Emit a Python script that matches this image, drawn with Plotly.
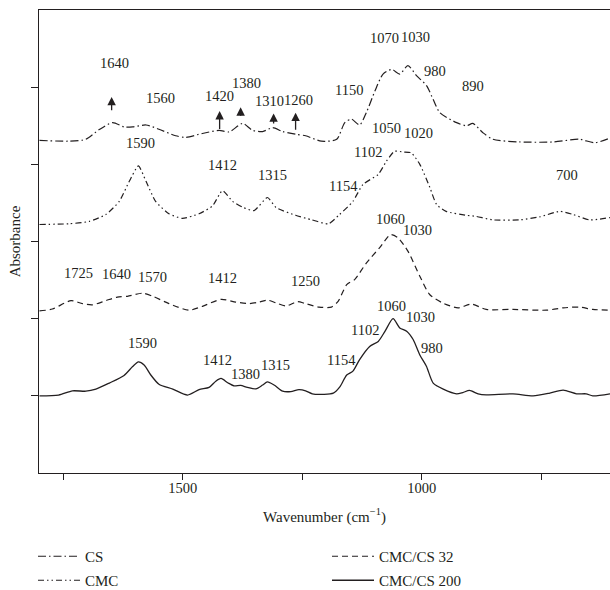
import plotly.graph_objects as go

# ---------------- data ----------------
cs_wn = [1800, 1738, 1703, 1675, 1647, 1623, 1605, 1577, 1550, 1515, 1494, 1459, 1424, 1403,
         1375, 1354, 1333, 1312, 1291, 1264, 1243, 1210, 1178, 1161, 1147, 1130, 1116, 1098,
         1081, 1063, 1046, 1029, 1011, 990, 976, 962, 927, 906, 893, 872, 851, 795, 725, 670,
         638, 606]
cs_abs = [4.31, 4.30, 4.325, 4.45, 4.54, 4.485, 4.485, 4.51, 4.455, 4.37, 4.35, 4.40, 4.44, 4.42,
          4.53, 4.44, 4.425, 4.475, 4.425, 4.39, 4.37, 4.30, 4.325, 4.54, 4.585, 4.51, 4.67, 4.95,
          5.17, 5.23, 5.17, 5.28, 5.15, 5.02, 4.84, 4.67, 4.54, 4.50, 4.53, 4.41, 4.325, 4.29, 4.29,
          4.325, 4.28, 4.34]

cmc_wn = [1800, 1738, 1696, 1661, 1633, 1612, 1593, 1577, 1557, 1529, 1501, 1466, 1438, 1417,
          1396, 1375, 1351, 1323, 1305, 1264, 1230, 1195, 1172, 1144, 1123, 1091, 1074, 1057,
          1039, 1022, 1004, 983, 969, 949, 907, 886, 851, 795, 753, 711, 683, 649, 606]
cmc_abs = [3.22, 3.23, 3.26, 3.35, 3.52, 3.78, 3.98, 3.78, 3.52, 3.36, 3.30, 3.36, 3.46, 3.66,
           3.52, 3.445, 3.40, 3.57, 3.44, 3.34, 3.28, 3.23, 3.35, 3.52, 3.74, 3.87, 4.04, 4.17,
           4.16, 4.15, 4.00, 3.70, 3.48, 3.39, 3.34, 3.325, 3.28, 3.28, 3.32, 3.39, 3.35, 3.28, 3.31]

c32_wn = [1800, 1773, 1734, 1710, 1689, 1661, 1637, 1616, 1584, 1563, 1529, 1487, 1459, 1420,
          1389, 1361, 1344, 1323, 1305, 1284, 1260, 1243, 1215, 1189, 1175, 1157, 1140, 1116,
          1088, 1065, 1050, 1029, 1004, 983, 955, 924, 896, 865, 809, 739, 704, 670, 642, 606]
c32_abs = [2.10, 2.125, 2.234, 2.195, 2.18, 2.234, 2.28, 2.29, 2.33, 2.29, 2.195, 2.11, 2.16, 2.25,
           2.215, 2.195, 2.21, 2.24, 2.205, 2.165, 2.22, 2.195, 2.15, 2.15, 2.225, 2.44, 2.51, 2.72,
           2.92, 3.09, 3.05, 2.875, 2.55, 2.31, 2.20, 2.14, 2.19, 2.12, 2.12, 2.11, 2.14, 2.15, 2.12,
           2.11]

c200_wn = [1800, 1760, 1731, 1703, 1682, 1654, 1623, 1605, 1593, 1581, 1567, 1550, 1521, 1490,
           1466, 1445, 1431, 1420, 1406, 1393, 1379, 1365, 1347, 1333, 1323, 1309, 1291, 1274,
           1257, 1243, 1229, 1205, 1185, 1171, 1157, 1144, 1130, 1109, 1091, 1077, 1060, 1046,
           1031, 1018, 1004, 990, 976, 955, 927, 914, 900, 882, 865, 809, 767, 732, 704, 676, 656,
           642, 606]
c200_abs = [1.00, 1.01, 1.065, 1.06, 1.087, 1.165, 1.264, 1.38, 1.44, 1.40, 1.27, 1.15, 1.087, 1.01,
            1.08, 1.11, 1.19, 1.225, 1.17, 1.13, 1.135, 1.11, 1.09, 1.14, 1.18, 1.14, 1.06, 1.055,
            1.08, 1.065, 1.026, 1.02, 1.035, 1.12, 1.27, 1.32, 1.47, 1.64, 1.705, 1.835, 2.00, 1.88,
            1.835, 1.73, 1.53, 1.38, 1.165, 1.087, 1.026, 1.043, 1.07, 1.026, 1.013, 1.026, 1.00,
            1.035, 1.074, 1.026, 1.026, 1.00, 1.026]

series_names = ["CS", "CMC", "CMC/CS 32", "CMC/CS 200"]

x_tick_vals = [1750, 1500, 1250, 1000, 750]
x_tick_text = ["", "1500", "", "1000", ""]
y_tick_vals = [1, 2, 3, 4, 5]

# peak labels: (text, wavenumber, absorbance)
peak_labels = [
    ("1640", 1643, 5.308), ("1560", 1547, 4.866), ("1420", 1424, 4.887), ("1380", 1367, 5.048),
    ("1310", 1318, 4.822), ("1260", 1257, 4.835), ("1150", 1153, 4.961), ("1070", 1077, 5.632),
    ("1030", 1013, 5.645), ("980", 972, 5.204), ("890", 893, 5.009),
    ("1590", 1589, 4.282), ("1412", 1416, 3.987), ("1315", 1312, 3.857), ("1050", 1073, 4.477),
    ("1020", 1007, 4.403), ("1102", 1113, 4.165), ("1154", 1163, 3.718), ("700", 697, 3.857),
    ("1725", 1719, 2.594), ("1640", 1639, 2.581), ("1570", 1563, 2.542), ("1412", 1416, 2.523),
    ("1250", 1244, 2.484), ("1060", 1066, 3.295), ("1030", 1008, 3.143),
    ("1590", 1584, 1.684), ("1412", 1427, 1.458), ("1380", 1369, 1.286), ("1315", 1307, 1.403),
    ("1060", 1063, 2.169), ("1030", 1002, 2.022), ("1102", 1118, 1.848), ("980", 979, 1.619),
    ("1154", 1167, 1.458),
]

# arrows on the CS curve: (wavenumber, base absorbance, tip absorbance)
arrow_wn = [1649, 1423, 1379, 1310, 1264]
arrow_base = [4.68, 4.44, 4.61, 4.51, 4.43]
arrow_tip = [4.874, 4.69, 4.74, 4.66, 4.67]

# ---------------- figure ----------------
INK = "#231f20"
FONT = "Liberation Serif"

fig = go.Figure()
styles = [
    dict(dash="8px,3px,1.5px,3px", width=1.2, smoothing=0.7),
    dict(dash="6px,3px,1.5px,3px,1.5px,3px", width=1.2, smoothing=0.55),
    dict(dash="6px,4px", width=1.2, smoothing=0.7),
    dict(dash="solid", width=1.3, smoothing=0.7),
]
xs = [cs_wn, cmc_wn, c32_wn, c200_wn]
ys = [cs_abs, cmc_abs, c32_abs, c200_abs]
legends = ["legend", "legend", "legend2", "legend2"]
for i in range(4):
    fig.add_trace(go.Scatter(
        x=xs[i], y=ys[i], mode="lines", name=series_names[i],
        line=dict(color=INK, width=styles[i]["width"], dash=styles[i]["dash"],
                  shape="spline", smoothing=styles[i]["smoothing"]),
        legend=legends[i], legendgroup=series_names[i], hoverinfo="skip"))

for txt, xv, yv in peak_labels:
    fig.add_annotation(x=xv, y=yv, text=txt, showarrow=False,
                       font=dict(family=FONT, size=14.5, color=INK))

for xv, yb, yt in zip(arrow_wn, arrow_base, arrow_tip):
    fig.add_annotation(x=xv, y=yt, ax=xv, ay=yb, axref="x", ayref="y", text="",
                       showarrow=True, arrowhead=2, arrowsize=1.3, arrowwidth=1.3,
                       arrowcolor=INK, standoff=0, startstandoff=0)

PLOT_W = 571.0
PLOT_H = 463.0
legend_common = dict(orientation="v", yanchor="top", xanchor="left",
                     itemwidth=42, tracegroupgap=1.5,
                     bgcolor="rgba(0,0,0,0)", borderwidth=0,
                     font=dict(family=FONT, size=15, color=INK))

fig.update_layout(
    width=610, height=590,
    margin=dict(l=39, r=0, t=10, b=117, autoexpand=False),
    paper_bgcolor="white", plot_bgcolor="white",
    font=dict(family=FONT, color=INK),
    showlegend=True,
    legend=dict(x=(33 - 39) / PLOT_W, y=(473 - 540) / PLOT_H, **legend_common),
    legend2=dict(x=(327 - 39) / PLOT_W, y=(473 - 540) / PLOT_H, **legend_common),
    xaxis=dict(range=[1801, 606], tickvals=x_tick_vals, ticktext=x_tick_text,
               ticks="outside", ticklen=6, tickwidth=1.2, tickcolor=INK,
               ticklabelstandoff=-5,
               showline=True, linecolor=INK, linewidth=1.3, mirror=True,
               showgrid=False, zeroline=False,
               tickfont=dict(family=FONT, size=14.5, color=INK),
               title=dict(text="Wavenumber (cm<sup>−1</sup>)", standoff=16,
                          font=dict(family=FONT, size=15, color=INK))),
    yaxis=dict(range=[0, 6], tickvals=y_tick_vals, showticklabels=False,
               ticks="outside", ticklen=7, tickwidth=1.2, tickcolor=INK,
               showline=True, linecolor=INK, linewidth=1.3,
               showgrid=False, zeroline=False,
               title=dict(text="Absorbance", standoff=6,
                          font=dict(family=FONT, size=15, color=INK))),
)

fig.write_html("out.html")
